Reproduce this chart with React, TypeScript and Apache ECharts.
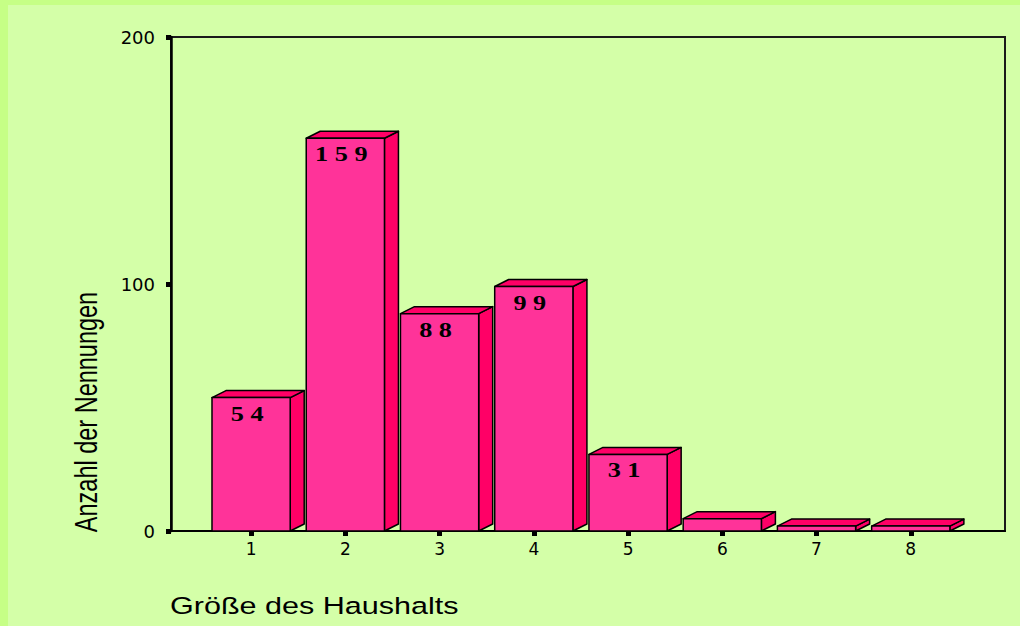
import React, { useEffect, useRef } from "react";
import * as echarts from "echarts";

// ---- data ----
const categories: number[] = [1, 2, 3, 4, 5, 6, 7, 8];
const counts: number[] = [54, 159, 88, 99, 31, 5, 2, 2];
const yTicks: number[] = [0, 100, 200];
const xAxisTitle = "Größe des Haushalts";
const yAxisTitle = "Anzahl der Nennungen";
const labelMin = 10; // values below this have no label drawn

// ---- styling ----
const BAR_W = 0.83;
const DEPTH_X = 14;
const DEPTH_Y = -7;
const FRONT = "#ff3399";
const SIDE = "#ff0066";
const STRETCH = 1.3;

export default function App() {
  const ref = useRef<HTMLDivElement>(null);

  useEffect(() => {
    if (!ref.current) return;
    const chart = echarts.init(ref.current, undefined, { renderer: "svg" });

    const renderItem = (params: any, api: any) => {
      const x = api.value(0);
      const v = api.value(1);
      const top = api.coord([x, v]);
      const base = api.coord([x, 0]);
      const w = api.size([BAR_W, 0])[0];
      const l = top[0] - w / 2;
      const r = top[0] + w / 2;
      const t = top[1];
      const b = base[1];
      const stroke = { stroke: "#000", lineWidth: 1.5, lineJoin: "round" };
      const children: any[] = [
        {
          type: "polygon",
          shape: { points: [[r, t], [r + DEPTH_X, t + DEPTH_Y], [r + DEPTH_X, b + DEPTH_Y], [r, b]] },
          style: { fill: SIDE, ...stroke },
        },
        {
          type: "polygon",
          shape: { points: [[l, t], [l + DEPTH_X, t + DEPTH_Y], [r + DEPTH_X, t + DEPTH_Y], [r, t]] },
          style: { fill: SIDE, ...stroke },
        },
        {
          type: "rect",
          shape: { x: l, y: t, width: w, height: b - t },
          style: { fill: FRONT, ...stroke },
        },
      ];
      if (v >= labelMin) {
        children.push({
          type: "text",
          x: top[0] - 4,
          y: t + 16,
          scaleX: 1.25,
          style: {
            text: String(v).split("").join(" "),
            font: 'bold 21px "Liberation Serif", serif',
            fill: "#000",
            align: "center",
            verticalAlign: "middle",
            textAlign: "center",
            textVerticalAlign: "middle",
          },
        });
      }
      return { type: "group", children };
    };

    const option: any = {
      animation: false,
      backgroundColor: "#d4ffa8",
      grid: {
        left: 171,
        top: 37,
        right: 15,
        bottom: 95,
        show: true,
        borderColor: "#1a1a1a",
        borderWidth: 2,
        backgroundColor: "transparent",
      },
      xAxis: {
        type: "value",
        min: 0.15,
        max: 9,
        axisLine: { show: true, onZero: false, lineStyle: { color: "#000", width: 2 } },
        axisTick: {
          show: true,
          customValues: categories,
          length: 5,
          lineStyle: { color: "#000", width: 5 },
        },
        axisLabel: {
          customValues: categories,
          fontFamily: "DejaVu Sans",
          fontSize: 17,
          color: "#000",
          margin: 9,
        },
        splitLine: { show: false },
      },
      yAxis: {
        type: "value",
        min: yTicks[0],
        max: yTicks[yTicks.length - 1],
        interval: yTicks[1] - yTicks[0],
        axisLine: { show: true, lineStyle: { color: "#000", width: 2.5 } },
        axisTick: { show: true, length: 5, lineStyle: { color: "#000", width: 5 } },
        axisLabel: {
          fontFamily: "DejaVu Sans",
          fontSize: 18,
          color: "#000",
          margin: 16,
        },
        splitLine: { show: false },
      },
      graphic: [
        { type: "rect", left: 0, top: 0, z: -1, shape: { width: 8, height: 626 }, style: { fill: "#c6ff86" } },
        { type: "rect", left: 0, top: 0, z: -1, shape: { width: 1020, height: 5 }, style: { fill: "#c6ff86" } },
        {
          type: "text",
          x: 170,
          y: 606,
          scaleX: STRETCH,
          style: {
            text: xAxisTitle,
            font: '23.5px "Liberation Sans", Arial, sans-serif',
            fill: "#000",
            align: "left",
            verticalAlign: "middle",
            textAlign: "left",
            textVerticalAlign: "middle",
          },
        },
        {
          type: "text",
          x: 86,
          y: 412,
          rotation: Math.PI / 2,
          scaleY: 1.35,
          style: {
            text: yAxisTitle,
            font: '23.5px "Liberation Sans", Arial, sans-serif',
            fill: "#000",
            align: "center",
            verticalAlign: "middle",
            textAlign: "center",
            textVerticalAlign: "middle",
          },
        },
      ],
      series: [
        {
          type: "custom",
          renderItem,
          clip: false,
          data: categories.map((c, i) => [c, counts[i]]),
          encode: { x: 0, y: 1 },
          z: 5,
        },
      ],
    };

    chart.setOption(option);
    return () => chart.dispose();
  }, []);

  return (
    <div
      ref={ref}
      style={{ position: "absolute", left: 0, top: 0, width: 1020, height: 626 }}
    />
  );
}
